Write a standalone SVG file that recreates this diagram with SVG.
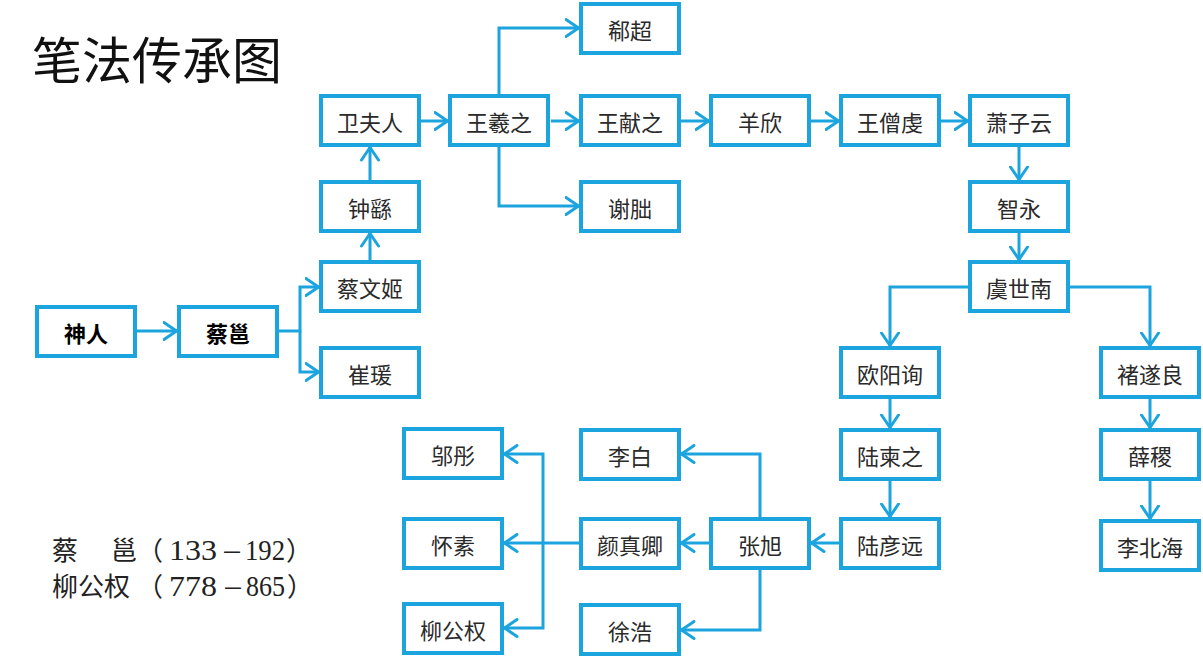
<svg xmlns="http://www.w3.org/2000/svg" width="1203" height="659" viewBox="0 0 1203 659">
<style>
.n rect{fill:#fff;stroke:#1CA4DF;stroke-width:4}
.n text{font-family:"Noto Sans CJK SC",sans-serif;font-size:22px;fill:#2a2a2a;text-anchor:middle}
.b text{fill:#000;font-weight:bold}
.c path{fill:none;stroke:#1CA4DF;stroke-width:3;marker-end:url(#ah)}
.title{font-family:"Noto Sans CJK SC",sans-serif;font-size:50px;fill:#111}
.note{font-family:"Noto Sans CJK SC",sans-serif;font-size:26px;fill:#222}
.num{font-family:"Liberation Serif",serif;font-size:29px}
.dash{font-size:22px}
</style>
<defs>
<marker id="ah" markerUnits="userSpaceOnUse" viewBox="0 0 16 20" markerWidth="16" markerHeight="20" refX="14.5" refY="10" orient="auto">
<path d="M1.5,1.5 L14,10 L1.5,18.5" fill="none" stroke="#1CA4DF" stroke-width="3" stroke-linecap="round" stroke-linejoin="round"/>
</marker>
</defs>
<rect width="1203" height="659" fill="#fff"/>
<text class="title" x="32" y="79">笔法传承图</text>
<text class="note" y="560"><tspan x="52">蔡</tspan><tspan x="111">邕</tspan><tspan x="137">（</tspan><tspan class="num" x="169" textLength="48" lengthAdjust="spacingAndGlyphs">133</tspan><tspan class="dash" x="221">－</tspan><tspan class="num" x="245" textLength="40" lengthAdjust="spacingAndGlyphs">192</tspan><tspan x="286">）</tspan></text>
<text class="note" y="596"><tspan x="52">柳公权</tspan><tspan x="137">（</tspan><tspan class="num" x="169" textLength="48" lengthAdjust="spacingAndGlyphs">778</tspan><tspan class="dash" x="222">－</tspan><tspan class="num" x="246" textLength="39" lengthAdjust="spacingAndGlyphs">865</tspan><tspan x="287">）</tspan></text>
<g class="c" id="connectors">
<path d="M137,331 H177"/>
<path d="M279,331 H300 V287 H319"/>
<path d="M300,331 V372 H319"/>
<path d="M370,260 V233"/>
<path d="M370,180 V147"/>
<path d="M421,121 H448"/>
<path d="M499,94 V28 H579"/>
<path d="M551,121 H579"/>
<path d="M499,147 V206 H579"/>
<path d="M681,121 H709"/>
<path d="M811,121 H839"/>
<path d="M941,121 H968"/>
<path d="M1019,147 V180"/>
<path d="M1019,233 V260"/>
<path d="M968,287 H890 V346"/>
<path d="M1070,287 H1150 V346"/>
<path d="M890,399 V428"/>
<path d="M890,481 V517"/>
<path d="M839,543 H811"/>
<path d="M1150,399 V428"/>
<path d="M1150,481 V519"/>
<path d="M760,517 V454 H681"/>
<path d="M709,543 H681"/>
<path d="M760,570 V630 H681"/>
<path d="M579,543 H504"/>
<path d="M543,543 V454 H504"/>
<path d="M543,543 V628 H504"/>
</g>
<g class="n b" id="shenren"><rect x="37" y="307" width="98" height="49"/><text x="86" y="342">神人</text></g>
<g class="n b" id="caiyong"><rect x="179" y="307" width="98" height="49"/><text x="228" y="342">蔡邕</text></g>
<g class="n" id="caiwenji"><rect x="321" y="262" width="98" height="49"/><text x="370" y="297">蔡文姬</text></g>
<g class="n" id="cuiyuan"><rect x="321" y="348" width="98" height="49"/><text x="370" y="383">崔瑗</text></g>
<g class="n" id="zhongyou"><rect x="321" y="182" width="98" height="49"/><text x="370" y="217">钟繇</text></g>
<g class="n" id="weifuren"><rect x="321" y="96" width="98" height="49"/><text x="370" y="131">卫夫人</text></g>
<g class="n" id="wangxizhi"><rect x="450" y="96" width="98" height="49"/><text x="499" y="131">王羲之</text></g>
<g class="n" id="xichao"><rect x="581" y="4" width="98" height="49"/><text x="630" y="39">郗超</text></g>
<g class="n" id="wangxianzhi"><rect x="581" y="96" width="98" height="49"/><text x="630" y="131">王献之</text></g>
<g class="n" id="xietiao"><rect x="581" y="182" width="98" height="49"/><text x="630" y="217">谢朏</text></g>
<g class="n" id="yangxin"><rect x="711" y="96" width="98" height="49"/><text x="760" y="131">羊欣</text></g>
<g class="n" id="wangsengqian"><rect x="841" y="96" width="98" height="49"/><text x="890" y="131">王僧虔</text></g>
<g class="n" id="xiaoziyun"><rect x="970" y="96" width="98" height="49"/><text x="1019" y="131">萧子云</text></g>
<g class="n" id="zhiyong"><rect x="970" y="182" width="98" height="49"/><text x="1019" y="217">智永</text></g>
<g class="n" id="yushinan"><rect x="970" y="262" width="98" height="49"/><text x="1019" y="297">虞世南</text></g>
<g class="n" id="ouyangxun"><rect x="841" y="348" width="98" height="49"/><text x="890" y="383">欧阳询</text></g>
<g class="n" id="lujianzhi"><rect x="841" y="430" width="98" height="49"/><text x="890" y="465">陆柬之</text></g>
<g class="n" id="luyanyuan"><rect x="841" y="519" width="98" height="49"/><text x="890" y="554">陆彦远</text></g>
<g class="n" id="chusuiliang"><rect x="1101" y="348" width="98" height="49"/><text x="1150" y="383">褚遂良</text></g>
<g class="n" id="xueji"><rect x="1101" y="430" width="98" height="49"/><text x="1150" y="465">薛稷</text></g>
<g class="n" id="libeihai"><rect x="1101" y="521" width="98" height="49"/><text x="1150" y="556">李北海</text></g>
<g class="n" id="zhangxu"><rect x="711" y="519" width="98" height="49"/><text x="760" y="554">张旭</text></g>
<g class="n" id="yanzhenqing"><rect x="581" y="519" width="98" height="49"/><text x="630" y="554">颜真卿</text></g>
<g class="n" id="libai"><rect x="581" y="430" width="98" height="49"/><text x="630" y="465">李白</text></g>
<g class="n" id="xuhao"><rect x="581" y="605" width="98" height="49"/><text x="630" y="640">徐浩</text></g>
<g class="n" id="wutong"><rect x="404" y="429" width="98" height="49"/><text x="453" y="464">邬彤</text></g>
<g class="n" id="huaisu"><rect x="404" y="519" width="98" height="49"/><text x="453" y="554">怀素</text></g>
<g class="n" id="liugongquan"><rect x="404" y="604" width="98" height="49"/><text x="453" y="639">柳公权</text></g>
</svg>
